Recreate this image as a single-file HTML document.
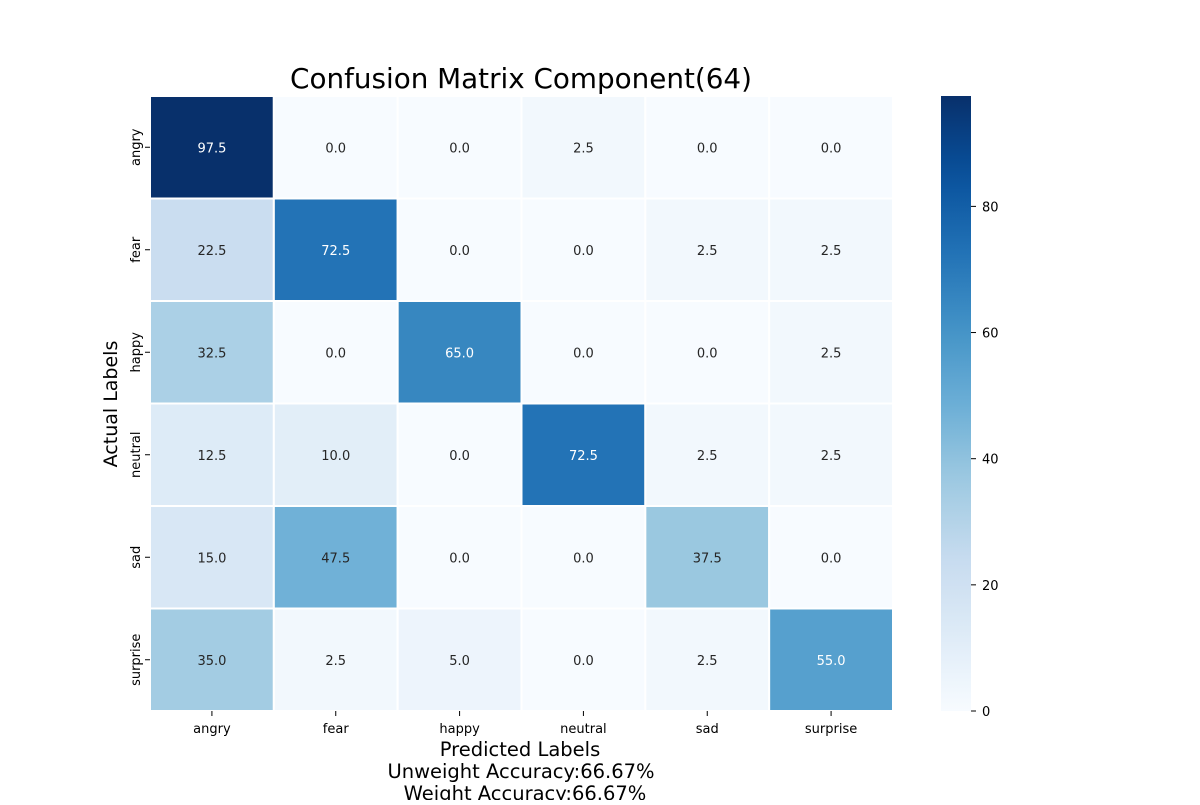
<!DOCTYPE html>
<html><head><meta charset="utf-8"><style>
body{margin:0;background:#fff;font-family:"Liberation Sans","DejaVu Sans",sans-serif}
svg text{font-family:"DejaVu Sans","Liberation Sans",sans-serif}
</style></head><body>
<svg id="chart" width="1200" height="800" xmlns="http://www.w3.org/2000/svg">
<defs><linearGradient id="cbar" x1="0" y1="1" x2="0" y2="0"></linearGradient></defs>
<text x="521" y="88" text-anchor="middle" font-size="27.8">Confusion Matrix Component(64)</text>
<g id="cells"></g>
<g id="xticks"></g>
<g id="yticks"></g>
<text transform="translate(117,404) rotate(-90)" text-anchor="middle" font-size="19">Actual Labels</text>
<text x="520" y="756" text-anchor="middle" font-size="19.5">Predicted Labels</text>
<text x="521" y="778" text-anchor="middle" font-size="19.5">Unweight Accuracy:66.67%</text>
<text x="525" y="800" text-anchor="middle" font-size="19.5">Weight Accuracy:66.67%</text>
<rect x="941" y="96" width="30" height="615" fill="url(#cbar)"/>
<g id="cticks"></g>
</svg>
<script>
const labels=["angry","fear","happy","neutral","sad","surprise"];
const row0=[97.5,0.0,0.0,2.5,0.0,0.0];
const row1=[22.5,72.5,0.0,0.0,2.5,2.5];
const row2=[32.5,0.0,65.0,0.0,0.0,2.5];
const row3=[12.5,10.0,0.0,72.5,2.5,2.5];
const row4=[15.0,47.5,0.0,0.0,37.5,0.0];
const row5=[35.0,2.5,5.0,0.0,2.5,55.0];
const cbarTicks=[0,20,40,60,80];
const rows=[row0,row1,row2,row3,row4,row5];
const vmin=0,vmax=Math.max(...rows.flat());
const X0=150,X1=893,Y0=96,Y1=711,n=labels.length,cw=(X1-X0)/n,ch=(Y1-Y0)/n;
const stops=["#f7fbff","#deebf7","#c6dbef","#9ecae1","#6baed6","#4292c6","#2171b5","#08519c","#08306b"].map(h=>[1,3,5].map(i=>parseInt(h.substr(i,2),16)));
function cmap(t){t=Math.max(0,Math.min(1,t))*(stops.length-1);const i=Math.min(Math.floor(t),stops.length-2),f=t-i;return stops[i].map((c,k)=>Math.round(c+(stops[i+1][k]-c)*f));}
const NS="http://www.w3.org/2000/svg";
function mk(tag,attrs,parent){const e=document.createElementNS(NS,tag);for(const k in attrs)e.setAttribute(k,attrs[k]);parent.appendChild(e);return e;}
const xs=i=>X0+i*cw, ys=i=>Y0+i*ch, cy=v=>Y1-(v-vmin)/(vmax-vmin)*(Y1-Y0);
const cells=document.getElementById('cells');
rows.forEach((r,i)=>r.forEach((v,j)=>{
 const c=cmap((v-vmin)/(vmax-vmin));
 const rect=mk('rect',{x:xs(j),y:ys(i),width:cw,height:ch,fill:`rgb(${c})`,stroke:'#fff','stroke-width':2},cells);
 
 
 const t=mk('text',{x:xs(j)+cw/2,y:ys(i)+ch/2+5,'text-anchor':'middle','font-size':13,fill:(v/vmax)>0.52?'#fff':'#262626'},cells);
 t.textContent=v.toFixed(1);
 
 
}));
const xt=document.getElementById('xticks'),yt=document.getElementById('yticks');
labels.forEach((l,i)=>{
 mk('line',{x1:xs(i)+cw/2,x2:xs(i)+cw/2,y1:Y1,y2:Y1+5,stroke:'#000'},xt);
 const t=mk('text',{x:xs(i)+cw/2,y:Y1+22,'text-anchor':'middle','font-size':13},xt);t.textContent=l;
 
 
 mk('line',{x1:X0-5,x2:X0,y1:ys(i)+ch/2,y2:ys(i)+ch/2,stroke:'#000'},yt);
 const u=mk('text',{transform:`translate(${X0-10},${ys(i)+ch/2}) rotate(-90)`,'text-anchor':'middle','font-size':13},yt);u.textContent=l;
 
 
});
const g=document.getElementById('cbar');
for(let k=0;k<=20;k++){const c=cmap(k/20);mk('stop',{offset:k/20,'stop-color':`rgb(${c})`},g);}
const ct=document.getElementById('cticks');
cbarTicks.forEach(v=>{
 mk('line',{x1:971,x2:976,y1:cy(v),y2:cy(v),stroke:'#000'},ct);
 const t=mk('text',{x:982,y:cy(v)+5,'font-size':13},ct);t.textContent=v;
 
 
});
</script>
</body></html>
